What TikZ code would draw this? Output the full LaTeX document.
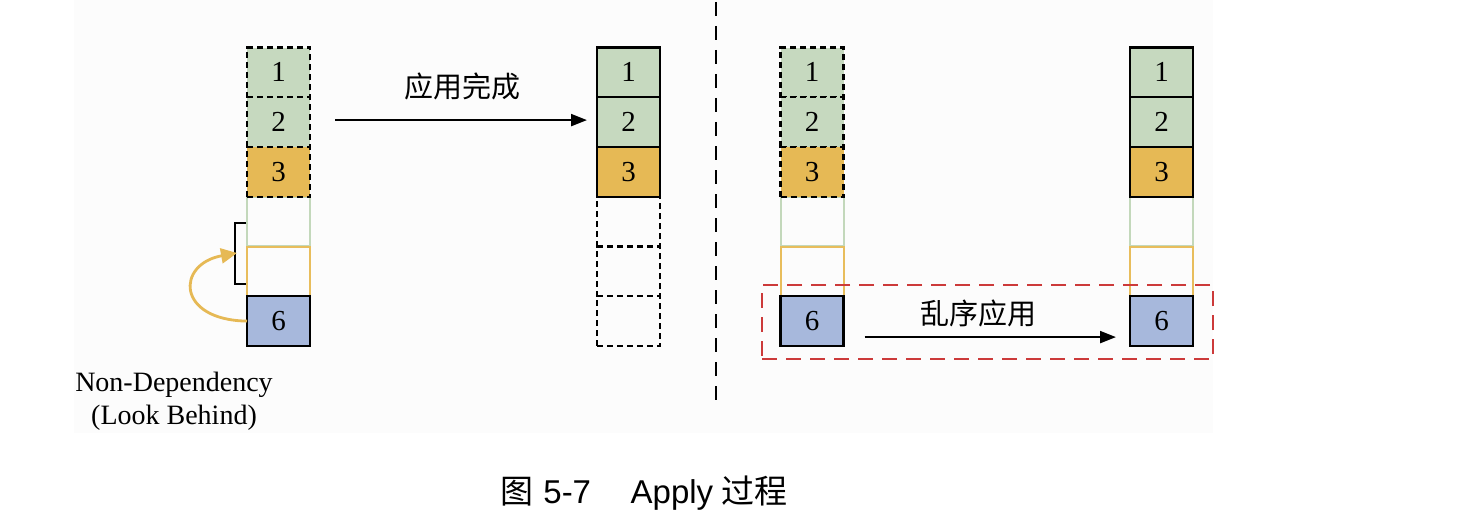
\documentclass[tikz,border=0pt]{standalone}
\usepackage{fontspec}
\setmainfont{Liberation Serif}
\newfontfamily\cjk{Noto Sans CJK SC}
\newfontfamily\capsans{Liberation Sans}
\usetikzlibrary{arrows.meta}
\definecolor{cgreen}{HTML}{C6D9BF}
\definecolor{corange}{HTML}{E6B955}
\definecolor{cblue}{HTML}{A7B8DC}
\definecolor{cgline}{HTML}{C3D8BB}
\definecolor{coline}{HTML}{E8BD5C}
\definecolor{cred}{HTML}{CC3A3A}
\definecolor{cbg}{HTML}{FCFCFC}
\begin{document}
\begin{tikzpicture}[x=1pt,y=-1pt,
  cell/.style={minimum width=63pt,minimum height=49.75pt,inner sep=0pt,outer sep=0pt,
    line width=2.3pt,font=\fontsize{29}{32}\selectfont},
  gcell/.style={cell,fill=cgreen,draw=black},
  ocell/.style={cell,fill=corange,draw=black},
  bcell/.style={cell,fill=cblue,draw=black},
  ecell/.style={cell,draw=black},
  dsh/.style={dash pattern=on 6pt off 4pt},
  pgcell/.style={cell,draw=cgline,line width=2pt},
  pocell/.style={cell,draw=coline,line width=2pt},
  arr/.style={line width=2.3pt,-{Triangle[length=16pt,width=12pt]}},
  lbl/.style={font=\cjk\fontsize{29}{32}\selectfont,inner sep=0pt}
]
\useasboundingbox (0,0) rectangle (1458,524);
\fill[cbg] (74,0) rectangle (1213,433);
% divider
\coordinate (dtop) at (716,2);
\coordinate (dbot) at (716,410);
\draw[line width=2.2pt,dash pattern=on 14pt off 10pt] (dtop) -- (dbot);

% y centres
\def\ya{72.4}\def\yb{122.1}\def\yc{171.9}\def\yd{221.6}\def\ye{271.4}\def\yf{321.1}

% left stack
\node[pgcell] (l4) at (278.5,\yd) {};
\node[pocell] (l5) at (278.5,\ye) {};
\node[gcell,dsh] (l1) at (278.5,\ya) {1};
\node[gcell,dsh] (l2) at (278.5,\yb) {2};
\node[ocell,dsh] (l3) at (278.5,\yc) {3};
\node[bcell] (l6) at (278.5,\yf) {6};

% middle stack
\node[ecell,dsh] (m4) at (628.5,\yd) {};
\node[ecell,dsh] (m5) at (628.5,\ye) {};
\node[ecell,dsh] (m6) at (628.5,\yf) {};
\node[gcell] (m1) at (628.5,\ya) {1};
\node[gcell] (m2) at (628.5,\yb) {2};
\node[ocell] (m3) at (628.5,\yc) {3};

% right-left stack
\node[pgcell] (r4) at (812,\yd) {};
\node[pocell] (r5) at (812,\ye) {};
\node[gcell,dsh] (r1) at (812,\ya) {1};
\node[gcell,dsh] (r2) at (812,\yb) {2};
\node[ocell,dsh] (r3) at (812,\yc) {3};
\node[bcell] (r6) at (812,\yf) {6};

% right-right stack
\node[pgcell] (s4) at (1161.5,\yd) {};
\node[pocell] (s5) at (1161.5,\ye) {};
\node[gcell] (s1) at (1161.5,\ya) {1};
\node[gcell] (s2) at (1161.5,\yb) {2};
\node[ocell] (s3) at (1161.5,\yc) {3};
\node[bcell] (s6) at (1161.5,\yf) {6};

% bracket
\coordinate (bt) at (246,223);
\coordinate (bb) at (246,284);
\coordinate (bm) at (237,253);
\draw[line width=1.8pt] (bt) -- ++(-11,0) |- (bb);
% yellow curved arrow
\draw[corange,line width=2.8pt,-{Triangle[length=16pt,width=15pt]}]
  (l6.west) .. controls (176,320) and (176,264) .. (bm);

% arrow 1
\draw[arr] ([xshift=25pt,yshift=2pt]l2.east) -- ([xshift=-10pt,yshift=2pt]m2.west);
\node[lbl] (t1) at (462,86) {应用完成};

% red dashed box
\node[draw=cred,line width=2.2pt,dash pattern=on 15pt off 9pt,
  minimum width=451pt,minimum height=74pt,inner sep=0pt] (red) at (987.5,322) {};

% arrow 2
\draw[arr] ([xshift=21pt,yshift=-16pt]r6.east) -- ([xshift=-14pt,yshift=-16pt]s6.west);
\node[lbl] (t2) at (978,313) {乱序应用};

% non-dependency label
\node[align=center,font=\fontsize{28}{33}\selectfont,inner sep=0pt] (nd) at (174,401)
  {Non-Dependency\\(Look Behind)};

% caption
\node[inner sep=0pt,font=\fontsize{33}{36}\selectfont] (cap) at (644,493)
  {{\cjk 图}\hspace{0.3em}{\capsans 5-7}\hspace{1.2em}{\capsans Apply} {\cjk 过程}};
\end{tikzpicture}
\end{document}
